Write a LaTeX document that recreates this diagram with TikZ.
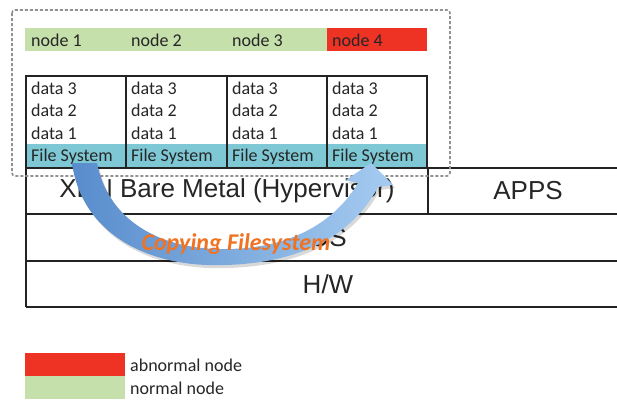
\documentclass[tikz,border=0pt]{standalone}
\usepackage{fontspec}
\setmainfont{Carlito}
\newfontfamily\hfont{Liberation Sans}
\definecolor{okgreen}{RGB}{197,224,170}
\definecolor{badred}{RGB}{238,50,36}
\definecolor{fscyan}{RGB}{125,200,212}
\definecolor{copyorange}{RGB}{240,115,35}
\definecolor{arrowdark}{RGB}{88,140,204}
\definecolor{arrowlight}{RGB}{165,203,240}
\definecolor{boxgray}{RGB}{145,145,145}
\definecolor{linegray}{RGB}{35,35,35}
\tikzset{
  celltxt/.style={anchor=west,inner sep=0pt,font=\fontsize{18}{20}\selectfont,text=black!85},
  bigtxt/.style={inner sep=0pt,font=\hfont\fontsize{26}{28}\selectfont,text=black!85},
  grid/.style={draw=linegray,line width=1.3pt},
  dashbox/.style={draw=boxgray,line width=1.6pt,dash pattern=on 3pt off 2pt,rounded corners=3pt},
}
\begin{document}
\begin{tikzpicture}[x=1pt,y=-1pt]
\useasboundingbox (0,0) rectangle (617,399);
\fill[white] (0,0) rectangle (617,399);
% node bar
\fill[okgreen] (25,28) rectangle (327,51);
\fill[badred] (327,28) rectangle (427,51);
\node[celltxt] (n1) at (31,40) {node 1};
\node[celltxt] (n2) at (131,40) {node 2};
\node[celltxt] (n3) at (232,40) {node 3};
\node[celltxt] (n4) at (332,40) {node 4};
% file system row
\fill[fscyan] (26,144) rectangle (427,168);
% data table
\draw[grid] (26,76) rectangle (427,168);
\foreach \x in {126,227,327} \draw[grid] (\x,76) -- (\x,168);
\foreach \i/\x in {1/31,2/131,3/232,4/332}{
  \node[celltxt] (d3\i) at (\x,88) {data 3};
  \node[celltxt] (d2\i) at (\x,110) {data 2};
  \node[celltxt] (d1\i) at (\x,133) {data 1};
  \node[celltxt] (fs\i) at (\x,157) {File System};
}
% lower stack
\draw[grid] (26,168) -- (630,168);
\draw[grid] (26,214) -- (630,214);
\draw[grid] (26,261) -- (630,261);
\draw[grid] (26,307) -- (630,307);
\draw[grid] (26,168) -- (26,307);
\draw[grid] (428,168) -- (428,214);
\node[bigtxt] (xen) at (227,191) {XEN Bare Metal (Hypervisor)};
\node[bigtxt] (apps) at (528,191) {APPS};
\node[bigtxt] (os) at (328,238) {OS};
\node[bigtxt] (hw) at (328,284) {H/W};
% dashed group box
\draw[dashbox] (12,10) rectangle (450,176);
% curved copy arrow
\def\arrowpath{(72,163) .. controls (82,235) and (150,268) .. (225,265)
  .. controls (300,263) and (352,236) .. (378,187)
  -- (393,185) -- (371,163) -- (346,180) -- (358,183)
  .. controls (335,222) and (290,249) .. (225,249)
  .. controls (160,250) and (108,220) .. (97,163) -- cycle}
\fill[black,opacity=0.15] [shift={(2,3)}] \arrowpath;
\shade[left color=arrowdark,right color=arrowlight] \arrowpath;
\node[inner sep=0pt,font=\bfseries\itshape\fontsize{24}{26}\selectfont,text=copyorange] (copy) at (236,244) {Copying Filesystem};
% legend
\fill[badred] (25,353) rectangle (125,376);
\fill[okgreen] (25,376) rectangle (125,399);
\node[celltxt] (labbad) at (130,365) {abnormal node};
\node[celltxt] (labok) at (130,388) {normal node};
\end{tikzpicture}
\end{document}
